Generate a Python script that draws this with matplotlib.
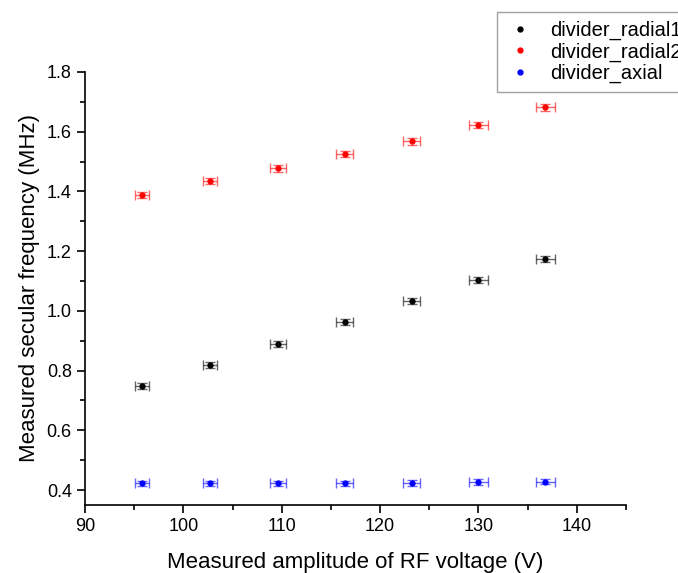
import matplotlib
matplotlib.use("Agg")
import matplotlib.pyplot as plt
from matplotlib.ticker import MultipleLocator

plt.rcParams['font.family'] = ['Liberation Sans', 'DejaVu Sans']

voltage = [95.8, 102.7, 109.6, 116.4, 123.2, 130.0, 136.8]
voltage_err = [0.70, 0.75, 0.80, 0.85, 0.88, 0.92, 0.97]
radial1 = [0.749, 0.818, 0.890, 0.962, 1.032, 1.102, 1.175]
radial2 = [1.388, 1.435, 1.477, 1.525, 1.568, 1.623, 1.682]
axial = [0.422, 0.422, 0.422, 0.422, 0.424, 0.427, 0.428]
radial1_err = [0.010, 0.010, 0.010, 0.010, 0.010, 0.010, 0.010]
radial2_err = [0.011, 0.011, 0.011, 0.011, 0.011, 0.011, 0.011]
axial_err = [0.009, 0.009, 0.009, 0.009, 0.009, 0.009, 0.009]

series = [
    ("divider_radial1", radial1, radial1_err, "black"),
    ("divider_radial2", radial2, radial2_err, "red"),
    ("divider_axial", axial, axial_err, "blue"),
]

fig = plt.figure(figsize=(6.78, 5.73), dpi=100)
ax = fig.add_axes([85/678, 68/573, 541/678, 433/573])

for name, vals, errs, col in series:
    ax.errorbar(voltage, vals, xerr=voltage_err, yerr=errs, fmt='none',
                ecolor=col, elinewidth=1.0, capsize=3.5, capthick=1.0, alpha=0.6)
    ax.plot(voltage, vals, linestyle='none', marker='o', markersize=3.5,
            color=col, label=name)

ax.set_xlim(90, 145)
ax.set_ylim(0.35, 1.8)
ax.xaxis.set_minor_locator(MultipleLocator(5))
ax.yaxis.set_minor_locator(MultipleLocator(0.1))
ax.set_xticks([90, 100, 110, 120, 130, 140])
ax.set_yticks([0.4, 0.6, 0.8, 1.0, 1.2, 1.4, 1.6, 1.8])
ax.yaxis.set_major_formatter(matplotlib.ticker.FormatStrFormatter('%.1f'))
ax.spines['top'].set_visible(False)
ax.spines['right'].set_visible(False)
for s in ('left', 'bottom'):
    ax.spines[s].set_linewidth(1.2)
ax.tick_params(which='major', direction='out', length=6, width=1.2, labelsize=13)
ax.tick_params(which='minor', direction='out', length=3.5, width=1.2)

ax.set_xlabel("Measured amplitude of RF voltage (V)", fontsize=16, labelpad=12)
ax.set_ylabel("Measured secular frequency (MHz)", fontsize=16, labelpad=5)

leg = fig.legend(loc='upper left', bbox_to_anchor=(497/678, 1 - 12/573),
                 fontsize=14.5, frameon=True, fancybox=False, markerscale=1.0,
                 handletextpad=0.8, handlelength=1.4, borderpad=0.45,
                 labelspacing=0.1, borderaxespad=0)
leg.get_frame().set_edgecolor('#888888')
leg.get_frame().set_linewidth(1.0)

fig.savefig("out.png", dpi=100)
